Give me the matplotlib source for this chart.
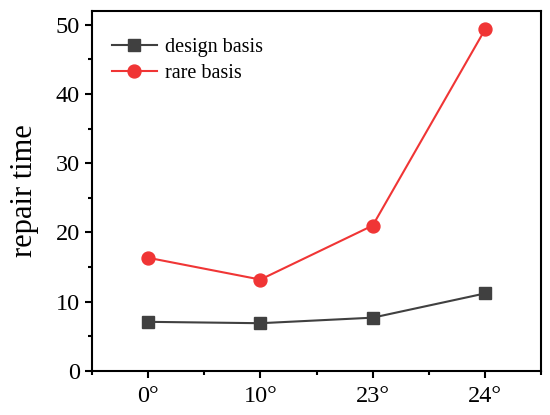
import matplotlib
matplotlib.use("Agg")
import matplotlib.pyplot as plt
from matplotlib.ticker import MultipleLocator

categories = ["0°", "10°", "23°", "24°"]
design_basis = [7.1, 6.9, 7.7, 11.2]
rare_basis = [16.35, 13.2, 21.0, 49.3]

plt.rcParams['font.family'] = ['Liberation Serif', 'DejaVu Serif']

fig = plt.figure(figsize=(5.5, 4.15), dpi=100)
ax = fig.add_axes([0.167, 0.106, 0.817, 0.868])

x = list(range(len(categories)))
ax.plot(x, design_basis, color='#404040', marker='s', markersize=9, lw=1.5, label='design basis')
ax.plot(x, rare_basis, color='#f03535', marker='o', markersize=9.3, lw=1.5, label='rare basis')

ax.set_xlim(-0.5, 3.5)
ax.set_ylim(0, 52)
ax.set_xticks(x)
ax.set_xticklabels(categories)
ax.xaxis.set_minor_locator(MultipleLocator(0.5))
ax.yaxis.set_major_locator(MultipleLocator(10))
ax.yaxis.set_minor_locator(MultipleLocator(5))
ax.tick_params(axis='both', which='major', direction='out', length=5, width=1.5, labelsize=17.5)
ax.tick_params(axis='x', which='major', pad=6)
ax.tick_params(axis='both', which='minor', direction='out', length=3, width=1.5)
for s in ax.spines.values():
    s.set_linewidth(1.5)

ax.set_ylabel('repair time', fontsize=22, labelpad=12)
ax.legend(loc='upper left', frameon=False, fontsize=14.5, handlelength=2.2,
          bbox_to_anchor=(0.005, 0.975), borderaxespad=0.5, labelspacing=0.35,
          handletextpad=0.4)

fig.savefig('out.png', dpi=100)
